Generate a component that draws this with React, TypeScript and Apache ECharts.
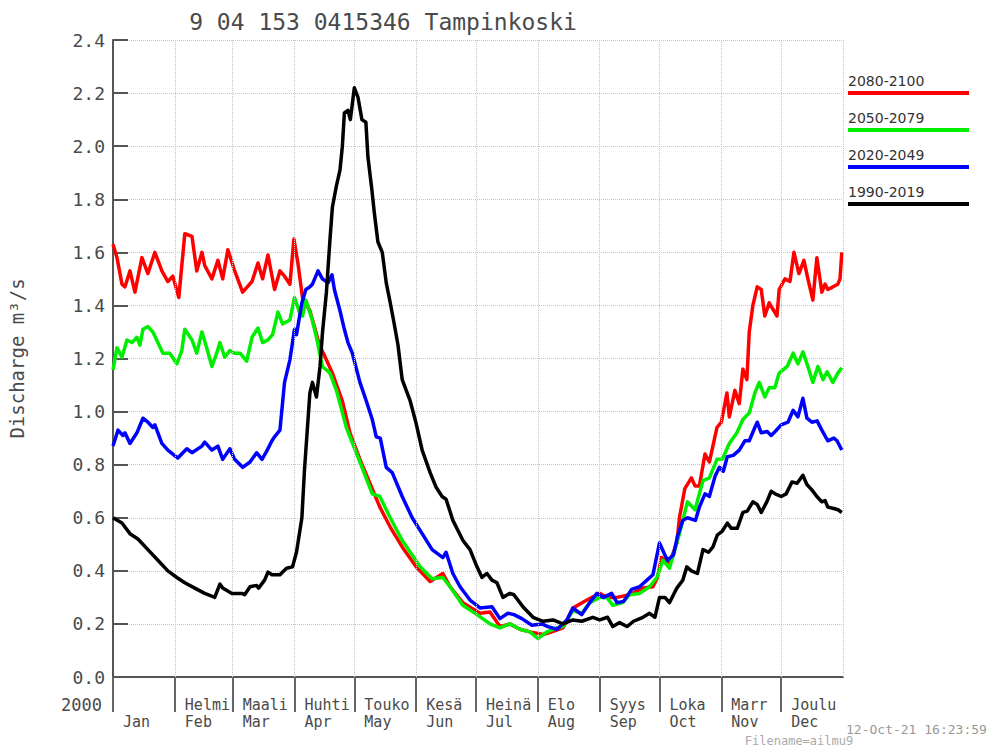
import React, { useEffect, useRef } from "react";
import * as echarts from "echarts";

const chartTitle = "9 04 153 0415346 Tampinkoski";
const yAxisName = "Discharge m³/s";
const yearLabel = "2000";
const stampText = "12-Oct-21 16:23:59";
const fileText = "Filename=ailmu9";

const monthStartDays = [0, 31, 60, 91, 121, 152, 182, 213, 244, 274, 305, 335];
const yearEndDay = 366;
const monthNamesFi = ["\u00a0", "Helmi", "Maali", "Huhti", "Touko", "Kesä", "Heinä", "Elo", "Syys", "Loka", "Marr", "Joulu"];
const monthNamesEn = ["Jan", "Feb", "Mar", "Apr", "May", "Jun", "Jul", "Aug", "Sep", "Oct", "Nov", "Dec"];

const seriesNames = ["2080-2100", "2050-2079", "2020-2049", "1990-2019"];
const seriesColors = ["#ff0000", "#00ee00", "#0000ff", "#000000"];

// [day of year, discharge m3/s]
const red2080 = [
  [0, 1.63], [2, 1.58], [4.5, 1.48], [6, 1.47], [8.5, 1.53], [11, 1.45], [14.5, 1.58], [17.5, 1.52],
  [21, 1.6], [24.5, 1.53], [27.5, 1.49], [30, 1.51], [33, 1.43], [36, 1.67], [39.6, 1.66], [42, 1.53],
  [44.6, 1.6], [46, 1.55], [49.6, 1.5], [52.6, 1.57], [55, 1.5], [57.6, 1.61], [61, 1.53], [65, 1.45],
  [69.7, 1.49], [72.7, 1.56], [75, 1.5], [77.7, 1.59], [81, 1.46], [83.7, 1.53], [86, 1.51], [88.7, 1.48],
  [90.7, 1.65], [92.7, 1.56], [95, 1.43], [98.7, 1.38], [101, 1.32], [103.5, 1.25], [105.5, 1.22],
  [110, 1.145], [115, 1.04], [118.8, 0.92], [123.8, 0.82], [128.8, 0.73], [133.8, 0.64], [139, 0.565],
  [145, 0.49], [152, 0.415], [159, 0.36], [165.4, 0.39], [169, 0.34], [175.4, 0.28], [184, 0.24],
  [189, 0.245], [194, 0.19], [199, 0.2], [204, 0.18], [209, 0.17], [215.6, 0.16], [220, 0.17],
  [225.6, 0.185], [230.6, 0.26], [237.6, 0.29], [244, 0.315], [247.6, 0.3], [252.7, 0.3], [259, 0.31],
  [265.7, 0.335], [270.7, 0.34], [273, 0.375], [275, 0.45], [279, 0.43], [282.7, 0.505], [284, 0.6],
  [286.7, 0.71], [290, 0.75], [291.8, 0.72], [294, 0.72], [296.8, 0.84], [299, 0.81], [302.8, 0.94],
  [305, 0.96], [307.8, 1.07], [309, 0.98], [311.8, 1.08], [314, 1.03], [315.8, 1.16], [317.8, 1.12],
  [319, 1.3], [320.8, 1.4], [323, 1.47], [325, 1.46], [326.8, 1.36], [329, 1.41], [332.9, 1.36],
  [334, 1.46], [336.9, 1.5], [339.4, 1.49], [341.4, 1.6], [343.9, 1.52], [346.4, 1.57], [348.4, 1.5],
  [350.9, 1.42], [352.9, 1.58], [355.4, 1.45], [357, 1.48], [358.4, 1.46], [361, 1.47], [363.4, 1.48],
  [364.5, 1.5], [365.4, 1.6],
];

const green2050 = [
  [0, 1.157], [2, 1.24], [4.5, 1.205], [7, 1.27], [9.5, 1.26], [12, 1.28], [13.5, 1.25], [15, 1.31],
  [17.5, 1.32], [20, 1.3], [22.5, 1.26], [25, 1.22], [28.5, 1.22], [32, 1.18], [34.5, 1.23], [36, 1.31],
  [39.6, 1.27], [42, 1.22], [44.6, 1.3], [47, 1.24], [49.6, 1.17], [52, 1.22], [53.6, 1.26], [56, 1.205],
  [58.6, 1.23], [61, 1.22], [63.7, 1.22], [67, 1.19], [69.7, 1.28], [72.7, 1.315], [75, 1.26], [77.7, 1.27],
  [80, 1.29], [82.7, 1.375], [85, 1.33], [88.7, 1.345], [91, 1.43], [93.7, 1.37], [95, 1.36], [96.7, 1.42],
  [99.7, 1.35], [102, 1.28], [105, 1.17], [108.8, 1.145], [112, 1.08], [117, 0.94], [123.8, 0.81],
  [130, 0.69], [133.8, 0.68], [139, 0.6], [145, 0.515], [154, 0.415], [160, 0.37], [165.4, 0.375],
  [169, 0.34], [175.4, 0.27], [182.5, 0.235], [189, 0.2], [194, 0.185], [199, 0.2], [204, 0.18],
  [209, 0.17], [213, 0.145], [217.6, 0.17], [222.6, 0.185], [225.6, 0.19], [230.6, 0.25], [235, 0.24],
  [239, 0.28], [244, 0.3], [247.6, 0.3], [250.6, 0.27], [255.6, 0.28], [259, 0.31], [264, 0.315],
  [269, 0.34], [272.7, 0.375], [275.7, 0.44], [279, 0.41], [284, 0.54], [288, 0.66], [291.8, 0.63],
  [295.8, 0.74], [299, 0.75], [302.8, 0.82], [305.5, 0.82], [309, 0.88], [312.8, 0.92], [315.8, 0.97],
  [319, 0.995], [321.8, 1.07], [324, 1.11], [326.8, 1.055], [329, 1.09], [331.8, 1.09], [334, 1.145],
  [338, 1.17], [341, 1.22], [343.4, 1.18], [345.9, 1.225], [348.4, 1.17], [350.9, 1.11], [353.4, 1.17],
  [356, 1.12], [358, 1.15], [360.9, 1.11], [363.4, 1.145], [365.4, 1.165],
];

const blue2020 = [
  [0, 0.87], [2.5, 0.93], [5, 0.91], [6, 0.92], [8.5, 0.88], [12, 0.92], [15, 0.975], [17.5, 0.96],
  [20, 0.94], [21, 0.95], [24.5, 0.88], [27.5, 0.855], [32.5, 0.825], [37, 0.86], [39.6, 0.845],
  [44.6, 0.87], [46, 0.885], [49.6, 0.855], [52.6, 0.87], [55, 0.82], [58.6, 0.86], [61, 0.82],
  [65, 0.79], [68.7, 0.81], [72, 0.845], [74.7, 0.82], [77, 0.85], [79.7, 0.89], [81, 0.905],
  [83.7, 0.93], [86, 1.11], [88.7, 1.195], [91, 1.31], [92, 1.29], [94.7, 1.41], [96.7, 1.46],
  [98.7, 1.47], [100, 1.48], [102.8, 1.53], [105, 1.5], [107.8, 1.485], [109.8, 1.515], [111, 1.46],
  [113.8, 1.38], [116, 1.31], [117.8, 1.26], [120, 1.22], [123.8, 1.11], [127, 1.04], [130, 0.97],
  [132, 0.905], [134, 0.9], [137, 0.79], [140, 0.77], [145, 0.68], [150, 0.6], [155, 0.54], [160, 0.48],
  [165.4, 0.45], [167, 0.47], [170.4, 0.39], [174, 0.34], [179, 0.29], [184, 0.26], [190, 0.265],
  [194, 0.22], [198, 0.24], [201, 0.235], [205, 0.22], [210, 0.195], [215, 0.2], [218, 0.19],
  [222.6, 0.18], [227.6, 0.215], [230.6, 0.26], [235, 0.235], [239, 0.28], [242.6, 0.315], [246, 0.3],
  [250, 0.315], [252.7, 0.28], [256, 0.285], [260, 0.33], [264, 0.34], [267.7, 0.365], [270.7, 0.385],
  [274, 0.505], [276.7, 0.46], [278, 0.44], [281, 0.46], [283, 0.53], [285.7, 0.59], [288, 0.6],
  [292, 0.59], [294, 0.64], [296.8, 0.69], [299, 0.68], [301.8, 0.755], [304, 0.79], [306, 0.775],
  [308, 0.83], [311, 0.835], [314, 0.855], [316.8, 0.89], [319, 0.89], [321.8, 0.94], [323, 0.96],
  [325, 0.92], [328, 0.925], [330, 0.91], [332, 0.925], [335, 0.95], [338.4, 0.96], [341, 1.005],
  [343.4, 0.98], [345.9, 1.05], [347.9, 0.975], [350.4, 0.96], [353, 0.965], [355.4, 0.93],
  [358.4, 0.89], [361.4, 0.9], [363, 0.89], [365.4, 0.855],
];

const black1990 = [
  [0, 0.6], [4.5, 0.58], [8.5, 0.54], [12.5, 0.52], [17.5, 0.48], [22.5, 0.44], [27.5, 0.4], [32, 0.375],
  [36, 0.355], [41, 0.335], [46, 0.315], [51, 0.3], [53.6, 0.35], [55, 0.335], [59.6, 0.315],
  [64.7, 0.315], [66, 0.31], [68.7, 0.34], [72, 0.345], [73, 0.335], [76, 0.365], [77.7, 0.395],
  [79.7, 0.385], [83.7, 0.385], [87, 0.41], [90, 0.415], [92, 0.47], [94.7, 0.6], [96, 0.78],
  [98.7, 1.07], [100, 1.11], [102, 1.055], [103.8, 1.17], [105, 1.295], [107, 1.45], [108.8, 1.65],
  [110, 1.77], [112, 1.85], [113.8, 1.91], [115, 2.0], [116, 2.125], [117.8, 2.135], [119, 2.1],
  [121, 2.22], [122.8, 2.185], [124.8, 2.1], [126.8, 2.09], [127.8, 1.96], [129.8, 1.835], [131, 1.75],
  [132.8, 1.64], [135, 1.6], [137, 1.485], [139, 1.41], [141, 1.33], [142.9, 1.25], [145, 1.12],
  [149, 1.04], [152, 0.955], [155, 0.855], [159, 0.77], [162, 0.715], [165, 0.68], [167, 0.67],
  [170.4, 0.59], [175.4, 0.515], [179, 0.48], [182.5, 0.415], [185, 0.375], [187.5, 0.39], [190, 0.365],
  [192.5, 0.355], [195.5, 0.3], [199, 0.315], [201, 0.31], [205.5, 0.265], [210.6, 0.225], [215.6, 0.21],
  [220.6, 0.215], [225.6, 0.2], [230.6, 0.215], [235, 0.21], [240.6, 0.225], [244, 0.215], [248, 0.225],
  [250.6, 0.19], [254, 0.205], [257.7, 0.19], [261, 0.21], [265.7, 0.225], [269, 0.24], [271.7, 0.225],
  [274, 0.3], [276.7, 0.3], [279, 0.28], [282.7, 0.335], [285.7, 0.365], [287.7, 0.415], [290, 0.4],
  [293, 0.39], [295.8, 0.48], [298.6, 0.47], [300.8, 0.49], [303, 0.535], [305.5, 0.55], [308, 0.58],
  [310, 0.56], [313, 0.56], [315.8, 0.62], [318, 0.625], [320.8, 0.66], [323, 0.65], [325, 0.62],
  [327.8, 0.66], [330, 0.7], [332, 0.69], [335, 0.68], [337.5, 0.69], [340.4, 0.735], [343, 0.73],
  [345.9, 0.76], [347.9, 0.725], [350.4, 0.705], [352.9, 0.68], [355.4, 0.66], [357, 0.665],
  [358.4, 0.64], [361.4, 0.635], [363.5, 0.63], [365.4, 0.62],
];

const seriesData = [red2080, green2050, blue2020, black1990];

const MONO = '"DejaVu Sans Mono", "Liberation Mono", monospace';
const SANS = '"DejaVu Sans", "Noto Sans", sans-serif';
const TEXT = "#4a4a4a";
const AXIS = "#555555";
const GRID = "#c4c4c4";

export default function App() {
  const ref = useRef<HTMLDivElement>(null);

  useEffect(() => {
    if (!ref.current) return;
    const chart = echarts.init(ref.current, undefined, { renderer: "svg" });

    const gridDays = [...monthStartDays.slice(1), yearEndDay];

    const legendGraphics: any[] = [];
    seriesNames.forEach((name, i) => {
      const top = 81 + i * 37;
      legendGraphics.push({
        type: "text",
        x: 848,
        y: top,
        style: { text: name, fill: "#333", fontSize: 14, fontFamily: SANS, align: "left", verticalAlign: "middle" },
      });
      legendGraphics.push({
        type: "line",
        shape: { x1: 848, y1: top + 12, x2: 969, y2: top + 12 },
        style: { stroke: seriesColors[i], lineWidth: 4 },
      });
    });

    const option: any = {
      animation: false,
      backgroundColor: "#ffffff",
      grid: { left: 113, right: 152, top: 40, bottom: 70, containLabel: false, outerBoundsMode: "none" },
      xAxis: {
        type: "value",
        min: 0,
        max: yearEndDay,
        axisLine: { show: true, onZero: false, lineStyle: { color: AXIS, width: 2 } },
        axisTick: {
          show: true,
          customValues: monthStartDays,
          length: 35,
          inside: false,
          lineStyle: { color: "#666", width: 2 },
        },
        axisLabel: {
          show: true,
          customValues: monthStartDays,
          align: "left",
          padding: [0, 0, 0, 10],
          margin: 19,
          formatter: (v: number) => {
            const i = monthStartDays.indexOf(v);
            if (i < 0) return "";
            return `{fi|${monthNamesFi[i]}}\n{en|${monthNamesEn[i]}}`;
          },
          rich: {
            fi: { fontFamily: MONO, fontSize: 15, color: TEXT, lineHeight: 17 },
            en: { fontFamily: MONO, fontSize: 15, color: TEXT, lineHeight: 17 },
          },
        },
        splitLine: { show: false },
      },
      yAxis: {
        type: "value",
        min: 0,
        max: 2.4,
        interval: 0.2,
        name: yAxisName,
        nameLocation: "middle",
        nameRotate: 90,
        nameGap: 87,
        nameTextStyle: { fontFamily: MONO, fontSize: 19, color: TEXT },
        axisLine: { show: true, lineStyle: { color: AXIS, width: 2 } },
        axisTick: { show: true, inside: true, length: 15, lineStyle: { color: AXIS, width: 2 } },
        axisLabel: {
          margin: 8,
          fontFamily: MONO,
          fontSize: 18,
          color: TEXT,
          formatter: (v: number) => v.toFixed(1),
        },
        splitLine: { show: true, lineStyle: { color: GRID, type: "dotted", width: 1 } },
      },
      series: [
        {
          type: "line",
          name: "grid",
          data: [],
          silent: true,
          z: 1,
          markLine: {
            silent: true,
            symbol: "none",
            label: { show: false },
            lineStyle: { color: GRID, type: "dotted", width: 1 },
            data: gridDays.map((d) => ({ xAxis: d })),
          },
        },
        ...seriesNames.map((name, i) => ({
          type: "line",
          name,
          data: seriesData[i],
          showSymbol: false,
          symbol: "none",
          z: 2 + i,
          lineStyle: { color: seriesColors[i], width: 3.5, join: "round" },
          itemStyle: { color: seriesColors[i] },
        })),
      ],
      graphic: [
        {
          type: "text",
          x: 383,
          y: 22,
          style: { text: chartTitle, fill: TEXT, fontSize: 23, fontFamily: MONO, align: "center", verticalAlign: "middle" },
        },
        {
          type: "text",
          x: 102,
          y: 705,
          style: { text: yearLabel, fill: TEXT, fontSize: 17, fontFamily: MONO, align: "right", verticalAlign: "middle" },
        },
        {
          type: "text",
          x: 846,
          y: 729,
          style: { text: stampText, fill: "#999", fontSize: 13, fontFamily: MONO, align: "left", verticalAlign: "middle" },
        },
        {
          type: "text",
          x: 799,
          y: 741,
          style: { text: fileText, fill: "#aaa", fontSize: 12, fontFamily: MONO, align: "center", verticalAlign: "middle" },
        },
        ...legendGraphics,
      ],
    };

    chart.setOption(option);
    return () => chart.dispose();
  }, []);

  return (
    <div
      ref={ref}
      style={{ position: "absolute", left: 0, top: 0, width: 995, height: 747, background: "#fff" }}
    />
  );
}
